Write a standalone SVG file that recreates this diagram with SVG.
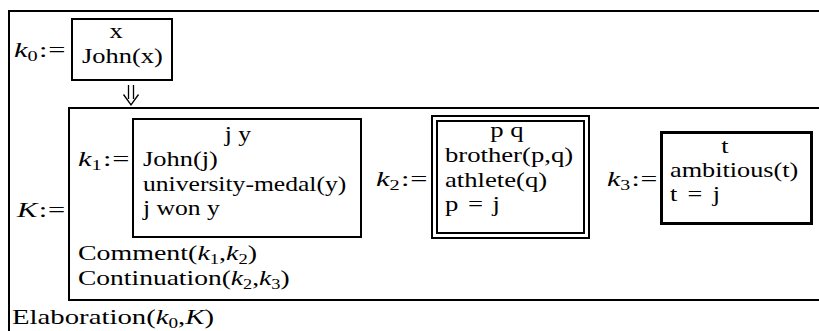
<svg xmlns="http://www.w3.org/2000/svg" width="819" height="331" viewBox="0 0 819 331">
<style>
text{font-family:"Liberation Serif","Times New Roman",serif;font-size:21px;fill:#000}
.box{fill:none;stroke:#000;stroke-width:2}
.thick{fill:none;stroke:#000;stroke-width:3}
.it{font-style:italic}
.sub{font-size:14px}
.c{text-anchor:middle}
.arr{fill:none;stroke:#000;stroke-width:1.3}
</style>
<rect width="819" height="331" fill="#fff"/>
<g id="frame-outer">
<rect class="box" x="9" y="11" width="900" height="400"/>
<text transform="translate(12,324) scale(1.37,1)">Elaboration(<tspan class="it">k</tspan><tspan class="sub" dy="4">0</tspan><tspan dy="-4">,</tspan><tspan class="it">K</tspan>)</text>
</g>
<g id="k0">
<text transform="translate(14,57) scale(1.45,1)"><tspan class="it">k</tspan><tspan class="sub" dy="4">0</tspan><tspan dy="-4" dx="1">:</tspan><tspan dx="0.5">=</tspan></text>
<rect class="box" x="72" y="19" width="100" height="61"/>
<text class="c" transform="translate(116,38) scale(1.26,1)">x</text>
<text transform="translate(82,63) scale(1.26,1)">John(x)</text>
</g>
<g id="connectors">
<path class="arr" d="M128.5 85 V99 M133.5 85 V99 M123.5 94.5 L131 105 L138.5 94.5"/>
</g>
<g id="K">
<text transform="translate(17,217) scale(1.45,1)"><tspan class="it">K</tspan><tspan dx="1">:</tspan><tspan dx="0.5">=</tspan></text>
<rect class="box" x="69" y="108" width="800" height="192"/>
<text transform="translate(78,260) scale(1.33,1)">Comment(<tspan class="it">k</tspan><tspan class="sub" dy="4">1</tspan><tspan dy="-4">,</tspan><tspan class="it">k</tspan><tspan class="sub" dy="4">2</tspan><tspan dy="-4">)</tspan></text>
<text transform="translate(78,285) scale(1.31,1)">Continuation(<tspan class="it">k</tspan><tspan class="sub" dy="4">2</tspan><tspan dy="-4">,</tspan><tspan class="it">k</tspan><tspan class="sub" dy="4">3</tspan><tspan dy="-4">)</tspan></text>
</g>
<g id="k1">
<text transform="translate(78,166) scale(1.45,1)"><tspan class="it">k</tspan><tspan class="sub" dy="4">1</tspan><tspan dy="-4" dx="1">:</tspan><tspan dx="0.5">=</tspan></text>
<rect class="box" x="133" y="119" width="228" height="118"/>
<text class="c" transform="translate(238,141) scale(1.22,1)">j y</text>
<text transform="translate(143,166) scale(1.26,1)">John(j)</text>
<text transform="translate(143,191) scale(1.22,1)">university-medal(y)</text>
<text transform="translate(143,215) scale(1.22,1)">j won y</text>
</g>
<g id="k2">
<text transform="translate(376,186) scale(1.45,1)"><tspan class="it">k</tspan><tspan class="sub" dy="4">2</tspan><tspan dy="-4" dx="1">:</tspan><tspan dx="0.5">=</tspan></text>
<rect class="box" x="432" y="116" width="157" height="122"/>
<rect class="box" x="437" y="121" width="147" height="112"/>
<text class="c" transform="translate(507,137) scale(1.27,1)">p q</text>
<text transform="translate(445,162) scale(1.27,1)">brother(p,q)</text>
<text transform="translate(445,187) scale(1.27,1)">athlete(q)</text>
<text transform="translate(445,211) scale(1.27,1)" word-spacing="2.3">p = j</text>
</g>
<g id="k3">
<text transform="translate(607,186) scale(1.42,1)"><tspan class="it">k</tspan><tspan class="sub" dy="4">3</tspan><tspan dy="-4" dx="1">:</tspan><tspan dx="0.5">=</tspan></text>
<rect class="thick" x="661.5" y="132.5" width="150" height="91"/>
<text class="c" transform="translate(725,153) scale(1.25,1)">t</text>
<text transform="translate(670,177) scale(1.25,1)">ambitious(t)</text>
<text transform="translate(670,201) scale(1.25,1)" word-spacing="3">t = j</text>
</g>
</svg>
